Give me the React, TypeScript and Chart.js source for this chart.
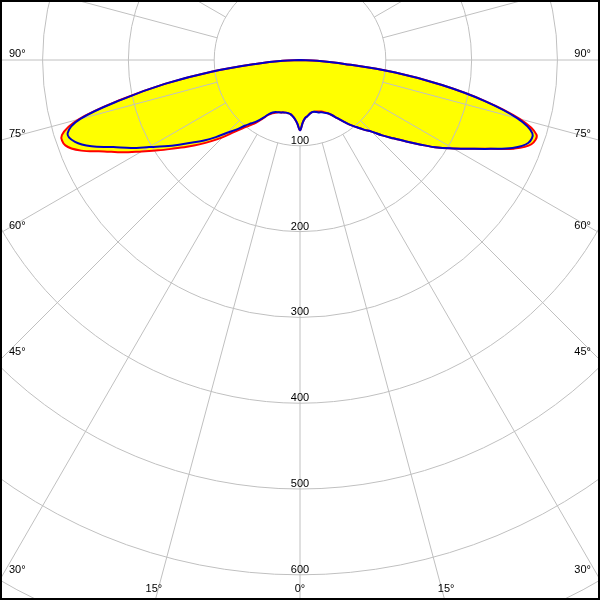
import React, { useEffect, useRef } from "react";
import { Chart, registerables } from "chart.js";

Chart.register(...registerables);

// Gamma angles (deg from nadir) for each half plane
const ANGLES = [0, 2.5, 5, 7.5, 10, 12.5, 15, 17.5, 20, 22.5, 25, 27.5, 30, 32.5, 35, 37.5, 40, 42.5, 45, 47.5, 50, 52.5, 55, 57.5, 60, 62.5, 65, 67.5, 70, 72.5, 75, 77.5, 80, 82.5, 85, 87.5, 90];

// Blue curve (left half / right half), cd/klm
const BLUE_LEFT = [82, 74, 69, 66, 64, 63.5, 63.5, 64, 65, 66, 67, 69, 73, 80, 87, 93, 100, 110, 120, 133, 146, 158, 172, 187, 203, 222, 240, 263, 279, 284, 265, 213, 160, 104, 50, 20, 0];
const BLUE_RIGHT = [82, 73, 68, 66, 64, 62.5, 62.5, 63.5, 65, 66, 68, 70, 74, 80, 87, 95, 102, 110, 118, 130, 142, 156, 172, 190, 206, 224, 245, 268, 283, 284, 262, 220, 168, 112, 52, 20, 0];

// Red curve (left half / right half), cd/klm
const RED_LEFT = [82, 74, 69, 66, 64, 63.5, 63.5, 64, 65, 66, 68, 70, 74, 81, 89, 96, 104, 114, 127, 140, 153, 166, 180, 196, 213, 233, 252, 276, 291, 291, 267, 214, 160, 104, 50, 20, 0];
const RED_RIGHT = [82, 73, 68, 66, 64, 62.5, 62.5, 63, 64, 65, 67, 70, 74, 80, 87, 95, 102, 110, 118, 130, 142, 156, 172, 190, 206, 224, 245, 270, 287, 289, 265, 221, 168, 112, 52, 20, 0];

// Grid
const RING_VALUES = [100, 200, 300, 400, 500, 600, 700];
const RING_LABELS = ["100", "200", "300", "400", "500", "600"];
const SPOKE_ANGLES = [0, 15, 30, 45, 60, 75, 90, 105, 120, 135, 150, 165, 180];
const LABELED_SPOKES = [0, 15, 30, 45, 60, 75, 90];
const SPOKE_LABELS = ["0°", "15°", "30°", "45°", "60°", "75°", "90°"];

const X_MIN = -347.3;
const X_MAX = 347.3;
const Y_MIN = -627.0;
const Y_MAX = 67.6;

const FONT = '11px "Liberation Sans", Arial, sans-serif';

function toPoints(left: number[], right: number[]) {
  const pts: { x: number; y: number }[] = [];
  for (let i = ANGLES.length - 1; i >= 0; i--) {
    const a = (ANGLES[i] * Math.PI) / 180;
    pts.push({ x: -left[i] * Math.sin(a), y: -left[i] * Math.cos(a) });
  }
  for (let i = 1; i < ANGLES.length; i++) {
    const a = (ANGLES[i] * Math.PI) / 180;
    pts.push({ x: right[i] * Math.sin(a), y: -right[i] * Math.cos(a) });
  }
  return pts;
}

const polarGrid = {
  id: "polarGrid",
  beforeDatasetsDraw(chart: any) {
    const { ctx, chartArea: ca, scales } = chart;
    const px = (v: number) => scales.x.getPixelForValue(v);
    const py = (v: number) => scales.y.getPixelForValue(v);
    const cx = px(0);
    const cy = py(0);
    ctx.save();
    ctx.beginPath();
    ctx.rect(ca.left, ca.top, ca.right - ca.left, ca.bottom - ca.top);
    ctx.clip();
    ctx.strokeStyle = "#c0c0c0";
    ctx.lineWidth = 1;
    for (const v of RING_VALUES) {
      const r = px(v) - cx;
      ctx.beginPath();
      ctx.arc(cx, cy, r, 0, Math.PI * 2);
      ctx.stroke();
    }
    const inner = RING_VALUES[0];
    const outer = 3000;
    for (const deg of SPOKE_ANGLES) {
      const sides = deg === 0 || deg === 180 ? [1] : [-1, 1];
      for (const s of sides) {
        const a = (deg * Math.PI) / 180;
        ctx.beginPath();
        ctx.moveTo(px(s * inner * Math.sin(a)), py(-inner * Math.cos(a)));
        ctx.lineTo(px(s * outer * Math.sin(a)), py(-outer * Math.cos(a)));
        ctx.stroke();
      }
    }
    ctx.restore();
  },
  afterDatasetsDraw(chart: any) {
    const { ctx, chartArea: ca, scales } = chart;
    const px = (v: number) => scales.x.getPixelForValue(v);
    const py = (v: number) => scales.y.getPixelForValue(v);
    const cx = px(0);
    const cy = py(0);
    ctx.save();
    ctx.fillStyle = "#000";
    ctx.font = FONT;
    ctx.textBaseline = "alphabetic";
    // ring labels
    ctx.textAlign = "center";
    RING_LABELS.forEach((lab, i) => {
      const v = RING_VALUES[i];
      ctx.fillText(lab, cx, py(-v) - 2);
    });
    // spoke labels
    LABELED_SPOKES.forEach((deg, i) => {
      const a = (deg * Math.PI) / 180;
      const sides = deg === 0 ? [1] : [-1, 1];
      for (const s of sides) {
        const dx = s * Math.sin(a);
        const dy = Math.cos(a);
        const tSide = Math.abs(dx) > 1e-9 ? (dx > 0 ? (ca.right - cx) / dx : (ca.left - cx) / dx) : Infinity;
        const tBot = dy > 1e-9 ? (ca.bottom - cy) / dy : Infinity;
        if (tSide < tBot) {
          const ey = cy + tSide * dy;
          if (s < 0) {
            ctx.textAlign = "left";
            ctx.fillText(SPOKE_LABELS[i], ca.left + 7, ey - 3);
          } else {
            ctx.textAlign = "right";
            ctx.fillText(SPOKE_LABELS[i], ca.right - 7, ey - 3);
          }
        } else {
          const ex = cx + tBot * dx;
          ctx.textAlign = "center";
          ctx.fillText(SPOKE_LABELS[i], ex + (deg === 0 ? 0 : s * 2), ca.bottom - 6);
        }
      }
    });
    ctx.restore();
  },
};

export default function App() {
  const ref = useRef<HTMLCanvasElement>(null);
  useEffect(() => {
    const canvas = ref.current!;
    const chart = new Chart(canvas, {
      type: "line",
      data: {
        datasets: [
          {
            label: "blue",
            data: toPoints(BLUE_LEFT, BLUE_RIGHT),
            borderColor: "#0000c8",
            borderWidth: 2,
            backgroundColor: "#ffff00",
            fill: "shape",
            pointRadius: 0,
            tension: 0.35,
          },
          {
            label: "red",
            data: toPoints(RED_LEFT, RED_RIGHT),
            borderColor: "#ff0000",
            borderWidth: 2,
            backgroundColor: "#ffff00",
            fill: "shape",
            pointRadius: 0,
            tension: 0.35,
          },
        ],
      },
      options: {
        animation: false,
        responsive: false,
        maintainAspectRatio: false,
        events: [],
        layout: { padding: 0 },
        scales: {
          x: { type: "linear", min: X_MIN, max: X_MAX, bounds: "data", display: false },
          y: { type: "linear", min: Y_MIN, max: Y_MAX, bounds: "data", display: false },
        },
        plugins: {
          legend: { display: false },
          tooltip: { enabled: false },
          filler: { drawTime: "beforeDatasetsDraw" },
        } as any,
      } as any,
      plugins: [polarGrid],
    });
    return () => chart.destroy();
  }, []);
  return (
    <div
      style={{
        position: "absolute",
        left: 0,
        top: 0,
        width: 600,
        height: 600,
        boxSizing: "border-box",
        border: "2px solid #000",
        background: "#fff",
      }}
    >
      <canvas ref={ref} width={596} height={596} style={{ display: "block", width: 596, height: 596 }} />
    </div>
  );
}
